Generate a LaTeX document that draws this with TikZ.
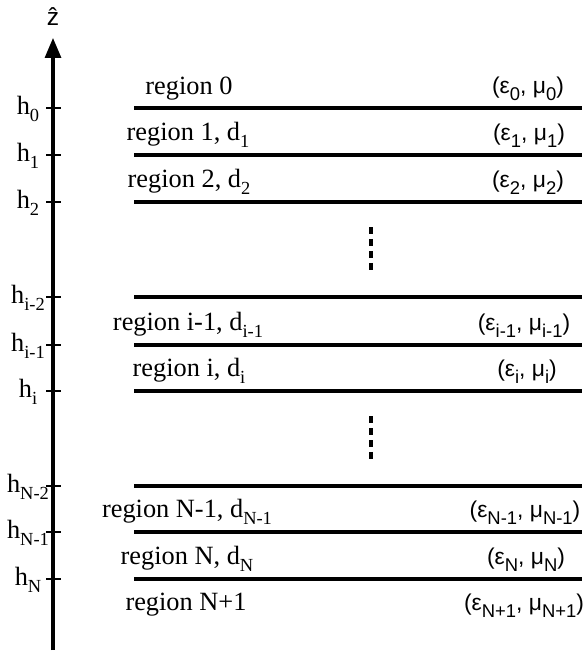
\documentclass[tikz,border=0pt]{standalone}
\usepackage{fontspec}
\setmainfont{Liberation Serif}
\setsansfont{Liberation Sans}
\usetikzlibrary{arrows.meta}
\newcommand\lsub[1]{\raisebox{-4pt}{\fontsize{10.5}{12}\selectfont#1}}
\tikzset{
  interface/.style={line width=1.9pt},
  tickmark/.style={line width=1.3pt},
  dots/.style={line width=2.2pt,dash pattern=on 0.14cm off 0.1cm},
  regionlabel/.style={font=\fontsize{15}{18}\selectfont,anchor=base},
  paramlabel/.style={font=\sffamily\fontsize{13}{16}\selectfont,anchor=base},
  heightlabel/.style={font=\fontsize{15}{18}\selectfont,anchor=base},
}
\begin{document}
\begin{tikzpicture}[x=0.02cm,y=-0.02cm]
\useasboundingbox (0,0) rectangle (584,652);
% z axis
\coordinate (zbot) at (53,650);
\coordinate (ztop) at (53,38);
\draw[line width=1.8pt,-{Triangle[length=0.4cm,width=0.32cm]}] (zbot) -- (ztop);
\node[font=\sffamily\fontsize{14}{17}\selectfont] (zhat) at (53,17) {\^z};
% interfaces, ticks and heights
\foreach \y/\s [count=\k] in {108/0,155/1,202/2,297/i-2,345/i-1,391/i,486/N-2,532/N-1,579/N}{
  \coordinate (L\k) at (134,\y);
  \coordinate (R\k) at (582,\y);
  \draw[interface] (L\k) -- (R\k);
  \coordinate (tl\k) at (46,\y);
  \coordinate (tr\k) at (61,\y);
  \draw[tickmark] (tl\k) -- (tr\k);
  \node[heightlabel] (h\k) at (28,\y+6) {h\lsub{\s}};
}
% omitted layers
\coordinate (dA) at (371,227);
\coordinate (dB) at (371,272);
\coordinate (dC) at (371,416);
\coordinate (dD) at (371,461);
\draw[dots] (dA) -- (dB);
\draw[dots] (dC) -- (dD);
% regions
\node[regionlabel] (reg0) at (189,94) {region 0};
\node[regionlabel] (reg1) at (188,140) {region 1, d\lsub{1}};
\node[regionlabel] (reg2) at (189,187) {region 2, d\lsub{2}};
\node[regionlabel] (regim) at (188,330) {region i-1, d\lsub{i-1}};
\node[regionlabel] (regi) at (189,376) {region i, d\lsub{i}};
\node[regionlabel] (regNm) at (187,517) {region N-1, d\lsub{N-1}};
\node[regionlabel] (regN) at (187,564) {region N, d\lsub{N}};
\node[regionlabel] (regNp) at (186,610) {region N+1};
% material parameters
\node[paramlabel] (par0) at (528,93) {(ε\lsub{0}, μ\lsub{0})};
\node[paramlabel] (par1) at (529,140) {(ε\lsub{1}, μ\lsub{1})};
\node[paramlabel] (par2) at (528,187) {(ε\lsub{2}, μ\lsub{2})};
\node[paramlabel] (parim) at (524,330) {(ε\lsub{i-1}, μ\lsub{i-1})};
\node[paramlabel] (pari) at (527,376) {(ε\lsub{i}, μ\lsub{i})};
\node[paramlabel] (parNm) at (525,517) {(ε\lsub{N-1}, μ\lsub{N-1})};
\node[paramlabel] (parN) at (526,564) {(ε\lsub{N}, μ\lsub{N})};
\node[paramlabel] (parNp) at (524,610) {(ε\lsub{N+1}, μ\lsub{N+1})};
\end{tikzpicture}
\end{document}
